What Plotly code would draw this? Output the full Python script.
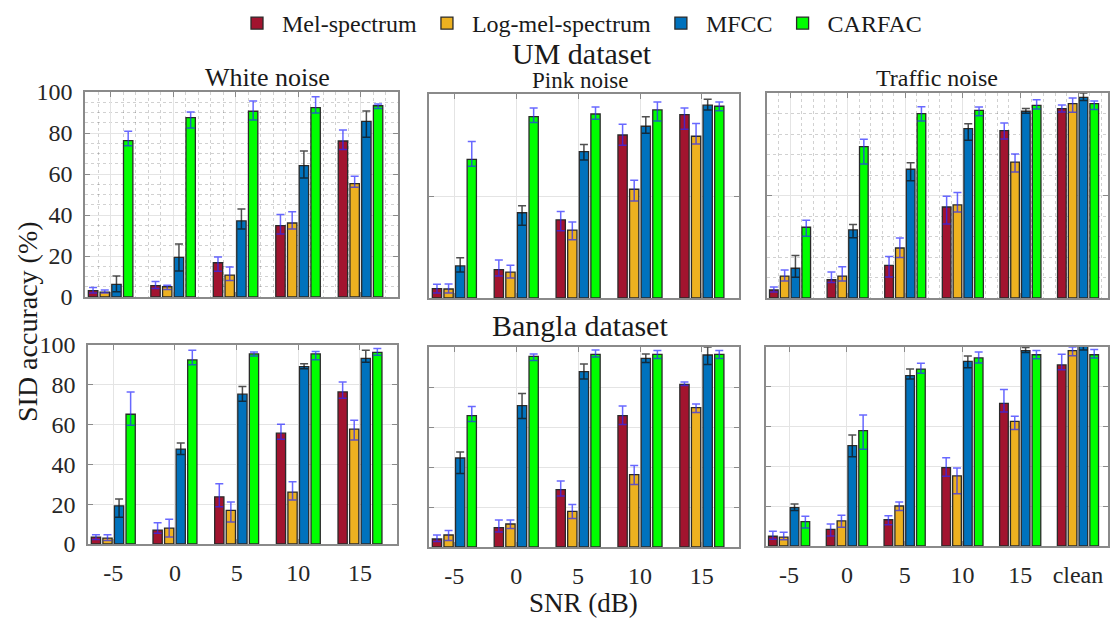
import plotly.graph_objects as go

# ---------------- data ----------------
features = ["Mel-spectrum", "Log-mel-spectrum", "MFCC", "CARFAC"]
snr_labels_5 = ["-5", "0", "5", "10", "15"]
snr_labels_6 = ["-5", "0", "5", "10", "15", "clean"]

# UM dataset - White noise (rows: Mel, Log-mel, MFCC, CARFAC)
um_white_mean = [[3.1, 5.5, 16.7, 34.8, 76.1],
                 [2.4, 5.0, 10.7, 36.1, 55.3],
                 [6.2, 19.3, 37.1, 64.1, 85.7],
                 [76.3, 87.5, 90.6, 92.4, 93.3]]
um_white_plus = [[1.5, 2.1, 2.8, 5.4, 5.4],
                 [1.0, 0.7, 3.9, 5.5, 3.6],
                 [4.0, 6.6, 5.8, 7.1, 5.0],
                 [4.5, 2.7, 5.0, 5.3, 0.8]]
um_white_minus = [[1.1, 1.4, 4.2, 4.1, 4.2],
                  [0.4, 1.4, 2.7, 2.9, 1.8],
                  [3.6, 6.6, 3.9, 6.1, 7.8],
                  [2.5, 5.1, 4.3, 2.6, 1.4]]

# UM dataset - Pink noise
um_pink_mean = [[4.6, 13.9, 38.3, 79.9, 89.9],
                [4.4, 12.7, 33.3, 53.3, 79.3],
                [15.7, 41.8, 71.8, 84.2, 94.5],
                [68.0, 88.9, 90.2, 92.2, 94.0]]
um_pink_plus = [[2.1, 4.7, 4.1, 5.3, 3.2],
                [2.5, 3.3, 3.9, 4.4, 6.2],
                [4.0, 3.4, 3.4, 4.7, 2.9],
                [8.7, 4.2, 3.4, 3.9, 2.1]]
um_pink_minus = [[2.2, 3.1, 5.3, 5.0, 7.2],
                 [2.0, 2.9, 4.8, 5.8, 3.8],
                 [3.0, 6.1, 4.1, 3.4, 2.3],
                 [3.4, 2.9, 2.6, 5.4, 2.2]]

# UM dataset - Traffic noise
um_traffic_mean = [[3.9, 8.9, 15.9, 44.4, 81.6, 92.4],
                   [10.7, 10.7, 24.4, 45.4, 66.3, 94.8],
                   [14.5, 33.2, 62.8, 82.6, 91.1, 97.9],
                   [34.5, 73.8, 89.9, 91.5, 94.0, 94.8]]
um_traffic_plus = [[1.5, 3.8, 4.3, 5.2, 3.8, 1.7],
                   [3.0, 4.6, 4.9, 6.1, 3.9, 2.8],
                   [6.2, 2.7, 3.2, 2.4, 1.3, 2.1],
                   [3.4, 3.6, 3.4, 1.7, 2.7, 1.3]]
um_traffic_minus = [[1.0, 1.4, 5.7, 8.3, 4.0, 1.7],
                    [2.4, 2.4, 4.7, 3.4, 4.8, 4.2],
                    [4.4, 3.8, 5.6, 5.7, 1.0, 1.6],
                    [4.4, 8.4, 3.6, 2.6, 1.8, 2.9]]

# Bangla dataset - White noise
bn_white_mean = [[3.5, 7.0, 23.7, 55.7, 76.4],
                 [3.0, 8.0, 16.9, 26.1, 57.7],
                 [19.2, 47.7, 75.3, 89.1, 93.3],
                 [65.2, 92.5, 95.5, 95.5, 96.3]]
bn_white_plus = [[1.2, 3.7, 6.6, 4.5, 5.0],
                 [1.7, 4.5, 4.2, 5.2, 4.5],
                 [3.4, 3.1, 3.8, 1.5, 4.0],
                 [11.2, 4.8, 1.0, 1.2, 1.9]]
bn_white_minus = [[1.3, 1.6, 5.0, 3.0, 3.2],
                  [1.3, 4.5, 5.9, 4.0, 5.5],
                  [5.8, 2.7, 3.6, 1.0, 2.0],
                  [5.5, 2.4, 1.0, 2.9, 1.5]]

# Bangla dataset - Pink noise
bn_pink_mean = [[4.0, 9.7, 28.7, 65.7, 81.3],
                [6.0, 11.5, 17.8, 36.2, 69.7],
                [44.5, 70.7, 87.7, 94.3, 96.0],
                [65.7, 95.3, 96.3, 96.3, 96.3]]
bn_pink_plus = [[2.0, 3.8, 4.3, 4.8, 1.2],
                [2.2, 2.0, 3.5, 4.6, 1.8],
                [3.0, 6.0, 3.8, 2.2, 4.0],
                [4.5, 1.2, 2.2, 2.0, 2.0]]
bn_pink_minus = [[1.3, 2.2, 3.2, 4.5, 0.5],
                 [2.7, 2.3, 3.5, 4.9, 2.4],
                 [7.8, 6.5, 3.7, 2.1, 4.7],
                 [2.9, 2.1, 1.3, 2.1, 2.1]]

# Bangla dataset - Traffic noise
bn_traffic_mean = [[4.9, 8.4, 13.2, 39.4, 71.7, 91.0],
                   [4.5, 12.6, 20.1, 35.2, 62.6, 98.2],
                   [19.3, 50.4, 85.6, 92.8, 98.2, 100.5],
                   [12.2, 58.0, 88.9, 94.5, 96.1, 96.1]]
bn_traffic_plus = [[2.5, 2.7, 2.0, 5.0, 7.0, 5.3],
                   [2.4, 2.8, 2.0, 4.0, 2.6, 1.8],
                   [1.8, 5.4, 3.3, 2.7, 1.5, 2.0],
                   [2.7, 7.8, 2.9, 3.0, 2.1, 2.7]]
bn_traffic_minus = [[1.5, 3.4, 2.5, 4.4, 4.4, 2.4],
                    [1.3, 3.2, 2.3, 8.9, 4.0, 2.6],
                    [1.4, 5.5, 1.7, 3.2, 1.0, 2.0],
                    [3.2, 9.4, 2.1, 2.5, 2.0, 1.6]]

# ---------------- style ----------------
W, H = 1115, 621
FONT = "Liberation Serif"
bar_colors = ["#A2142F", "#EDB120", "#0072BD", "#00FF00"]
err_colors = ["rgba(40,40,255,0.7)", "rgba(40,40,255,0.7)",
              "rgba(20,20,20,0.75)", "rgba(40,40,255,0.7)"]
AXC = "#8a8a8a"
GRID = "#e4e4e4"
MINOR = "rgba(0,0,0,0.18)"


def fx(x):
    return x / W


def fy(y):
    return 1 - y / H


# panel boxes in pixels: (left, right, top, bottom)
panels = [
    dict(box=(85, 398, 92, 297), mean=um_white_mean, plus=um_white_plus, minus=um_white_minus,
         labels=snr_labels_5, row=0, col=0),
    dict(box=(429, 739, 94, 298), mean=um_pink_mean, plus=um_pink_plus, minus=um_pink_minus,
         labels=snr_labels_5, row=0, col=1),
    dict(box=(767, 1108, 93, 298), mean=um_traffic_mean, plus=um_traffic_plus, minus=um_traffic_minus,
         labels=snr_labels_6, row=0, col=2),
    dict(box=(88, 397, 345, 544), mean=bn_white_mean, plus=bn_white_plus, minus=bn_white_minus,
         labels=snr_labels_5, row=1, col=0),
    dict(box=(429, 739, 347, 547), mean=bn_pink_mean, plus=bn_pink_plus, minus=bn_pink_minus,
         labels=snr_labels_5, row=1, col=1),
    dict(box=(766, 1108, 347, 546), mean=bn_traffic_mean, plus=bn_traffic_plus, minus=bn_traffic_minus,
         labels=snr_labels_6, row=1, col=2),
]

fig = go.Figure()
layout = {}

for i, p in enumerate(panels):
    n = len(p["labels"])
    xs = list(range(1, n + 1))
    suffix = "" if i == 0 else str(i + 1)
    for k, feat in enumerate(features):
        fig.add_trace(go.Bar(
            x=xs, y=p["mean"][k], name=feat,
            legendgroup=feat, showlegend=(i == 0),
            marker=dict(color=bar_colors[k], line=dict(color="#2a2a2a", width=1.3)),
            error_y=dict(type="data", symmetric=False, array=p["plus"][k],
                         arrayminus=p["minus"][k], color=err_colors[k],
                         thickness=1.5, width=4),
            xaxis="x" + suffix, yaxis="y" + suffix,
        ))

    l, r, t, b = p["box"]
    xr = [0.59, n + 0.6] if n == 5 else [0.6, n + 0.52]
    xaxis = dict(
        domain=[fx(l), fx(r)], anchor="y" + suffix, range=xr, automargin=False,
        tickmode="array", tickvals=xs, ticktext=p["labels"],
        showticklabels=(p["row"] == 1),
        ticks="inside", ticklen=5, tickcolor=AXC, tickwidth=1,
        showline=True, linecolor=AXC, linewidth=1.5, mirror="ticks",
        showgrid=True, gridcolor=GRID, gridwidth=1, zeroline=False,
        tickfont=dict(family=FONT, size=24, color="#262626"),
        ticklabelstandoff=6,
    )
    yaxis = dict(
        domain=[fy(b), fy(t)], anchor="x" + suffix, range=[0, 100], automargin=False,
        ticks="inside", ticklen=5, tickcolor=AXC, tickwidth=1,
        showline=True, linecolor=AXC, linewidth=1.5, mirror="ticks",
        showgrid=True, gridcolor=GRID, gridwidth=1, zeroline=False,
        showticklabels=(p["col"] == 0),
        tickfont=dict(family=FONT, size=24, color="#262626"),
        ticklabelstandoff=6,
    )
    if p["row"] == 0 and p["col"] in (1, 2):
        yaxis.update(tickmode="array", tickvals=[0, 50, 100])
    else:
        yaxis.update(tickmode="linear", tick0=0, dtick=20)
    if p["row"] == 0 and p["col"] == 0:
        yaxis["minor"] = dict(dtick=5, tick0=0, showgrid=True, gridcolor=MINOR,
                              griddash="dot", gridwidth=1, ticks="")
        xaxis["minor"] = dict(tickmode="linear", dtick=0.2, tick0=1, showgrid=True,
                              gridcolor=MINOR, griddash="dot", gridwidth=1, ticks="")
    if p["row"] == 0 and p["col"] == 2:
        yaxis["minor"] = dict(tickmode="linear", dtick=10, tick0=0, showgrid=True,
                              gridcolor=MINOR, griddash="dot", gridwidth=1, ticks="")
        xaxis["minor"] = dict(tickmode="linear", dtick=0.2, tick0=1, showgrid=True,
                              gridcolor=MINOR, griddash="dot", gridwidth=1, ticks="")
    layout["xaxis" + suffix] = xaxis
    layout["yaxis" + suffix] = yaxis

fig.update_layout(**layout)

txt = "#1a1a1a"
annotations = [
    dict(text="UM dataset", x=fx(582), y=fy(53), size=30),
    dict(text="Bangla dataset", x=fx(580), y=fy(325), size=30),
    dict(text="White noise", x=fx(267), y=fy(77), size=26),
    dict(text="Pink noise", x=fx(580), y=fy(80), size=23),
    dict(text="Traffic noise", x=fx(937), y=fy(78), size=24),
    dict(text="SNR (dB)", x=fx(583), y=fy(603), size=27),
]
for a in annotations:
    fig.add_annotation(text=a["text"], x=a["x"], y=a["y"], xref="paper", yref="paper",
                       xanchor="center", yanchor="middle", showarrow=False,
                       font=dict(family=FONT, size=a["size"], color=txt))
fig.add_annotation(text="SID accuracy (%)", x=fx(27), y=fy(322), xref="paper", yref="paper",
                   xanchor="center", yanchor="middle", showarrow=False, textangle=-90,
                   font=dict(family=FONT, size=28, color=txt))

fig.update_layout(
    width=W, height=H,
    margin=dict(l=0, r=0, t=0, b=0, autoexpand=False),
    paper_bgcolor="white", plot_bgcolor="white",
    barmode="group", bargap=0.25, bargroupgap=0.2,
    font=dict(family=FONT, color=txt),
    legend=dict(orientation="h", x=fx(232), y=fy(1), xanchor="left", yanchor="top",
                font=dict(family=FONT, size=24, color=txt), bgcolor="rgba(0,0,0,0)",
                itemwidth=40, traceorder="normal"),
)

fig.write_html(
    "out.html",
    config={"displayModeBar": False},
    post_script="document.body.style.margin='0';document.body.style.overflow='hidden';",
)
